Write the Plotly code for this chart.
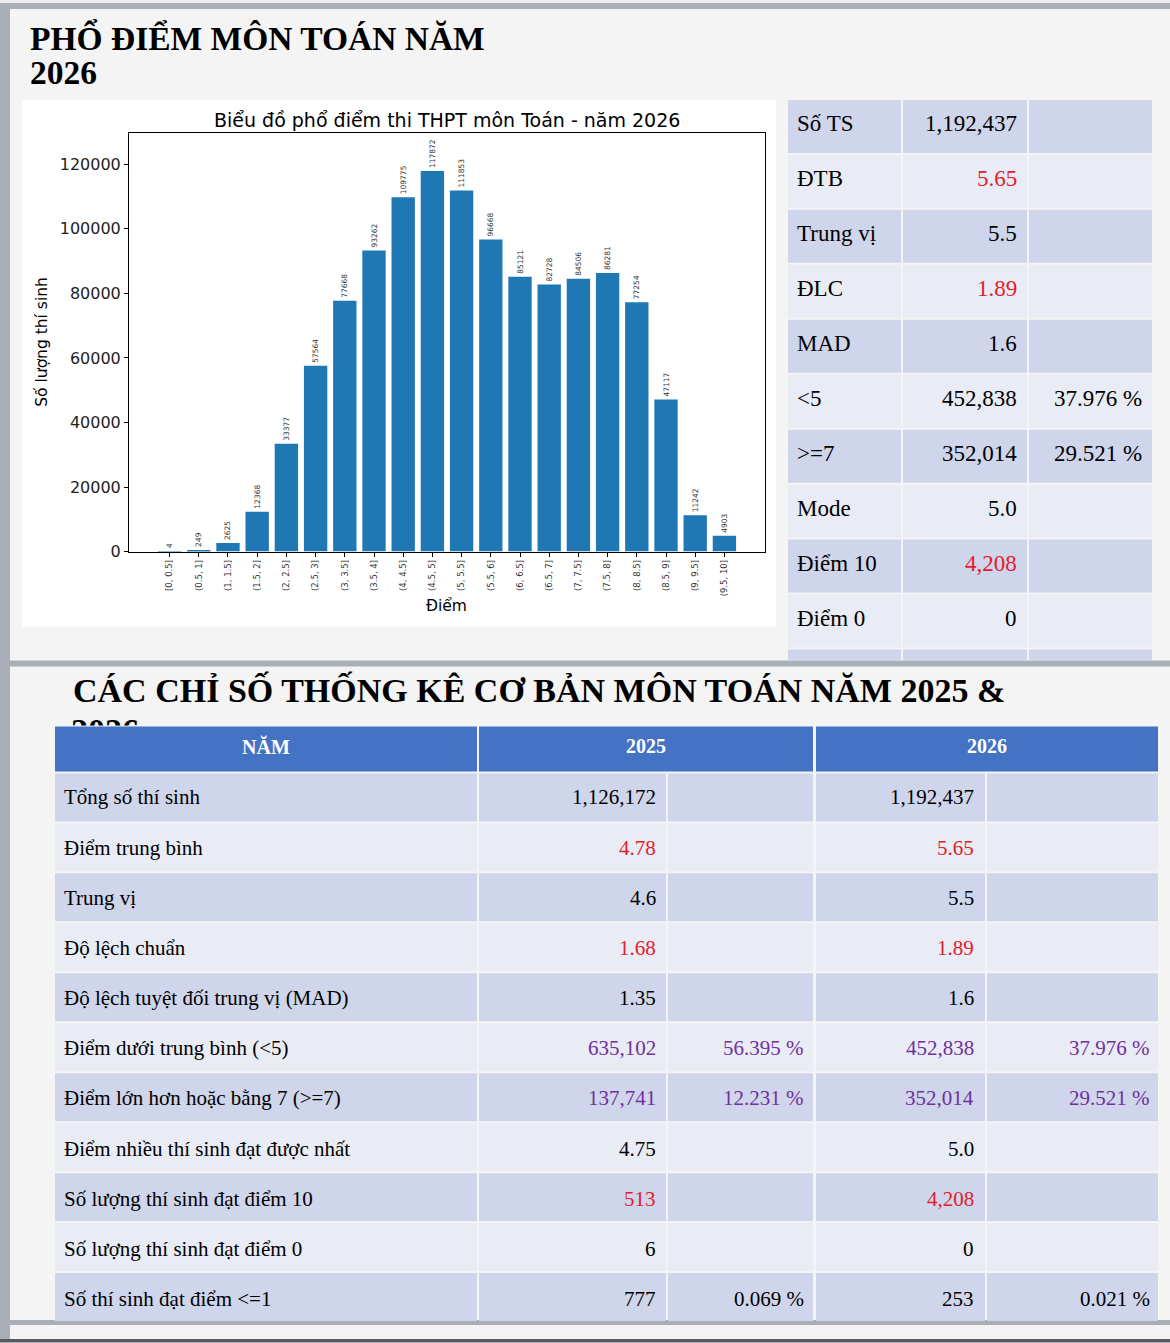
import plotly.graph_objects as go

W, H = 1170, 1343
FIG_H = 1352

# ---------------- data ----------------
bins = ["[0, 0.5]", "(0.5, 1]", "(1, 1.5]", "(1.5, 2]", "(2, 2.5]", "(2.5, 3]", "(3, 3.5]",
        "(3.5, 4]", "(4, 4.5]", "(4.5, 5]", "(5, 5.5]", "(5.5, 6]", "(6, 6.5]", "(6.5, 7]",
        "(7, 7.5]", "(7.5, 8]", "(8, 8.5]", "(8.5, 9]", "(9, 9.5]", "(9.5, 10]"]
counts = [4, 249, 2625, 12368, 33377, 57564, 77668, 93262, 109775, 117872, 111853, 96668,
          85121, 82728, 84506, 86281, 77254, 47117, 11242, 4903]
y_ticks = [0, 20000, 40000, 60000, 80000, 100000, 120000]

t1_labels = ["Số TS", "ĐTB", "Trung vị", "ĐLC", "MAD", "&lt;5", "&gt;=7", "Mode", "Điểm 10", "Điểm 0"]
t1_values = ["1,192,437", "5.65", "5.5", "1.89", "1.6", "452,838", "352,014", "5.0", "4,208", "0"]
t1_pct = ["", "", "", "", "", "37.976 %", "29.521 %", "", "", ""]
t1_red = [1, 3, 8]

t2_header = ["NĂM", "2025", "2026"]
t2_labels = ["Tổng số thí sinh", "Điểm trung bình", "Trung vị", "Độ lệch chuẩn",
             "Độ lệch tuyệt đối trung vị (MAD)", "Điểm dưới trung bình (&lt;5)",
             "Điểm lớn hơn hoặc bằng 7 (&gt;=7)", "Điểm nhiều thí sinh đạt được nhất",
             "Số lượng thí sinh đạt điểm 10", "Số lượng thí sinh đạt điểm 0", "Số thí sinh đạt điểm &lt;=1"]
v2025 = ["1,126,172", "4.78", "4.6", "1.68", "1.35", "635,102", "137,741", "4.75", "513", "6", "777"]
p2025 = ["", "", "", "", "", "56.395 %", "12.231 %", "", "", "", "0.069 %"]
v2026 = ["1,192,437", "5.65", "5.5", "1.89", "1.6", "452,838", "352,014", "5.0", "4,208", "0", "253"]
p2026 = ["", "", "", "", "", "37.976 %", "29.521 %", "", "", "", "0.021 %"]
t2_red = [1, 3, 8]
t2_purple = [5, 6]

# ---------------- styles ----------------
GREY = "#a9aeb9"
SLIDE = "#f4f4f4"
DARK = "#cfd5ea"
LIGHT = "#e9ebf5"
BLUE = "#4472c4"
RED = "#e3202b"
PURPLE = "#7030a0"
SERIF = "Liberation Serif"
SANS = "DejaVu Sans"


def px(x):
    return x / W


def py(y):
    return 1 - y / H


shapes = []
annos = []


def rect(x0, y0, x1, y1, color, line=None, lw=0):
    shapes.append(dict(type="rect", xref="paper", yref="paper", x0=px(x0), x1=px(x1),
                       y0=py(y1), y1=py(y0), fillcolor=color, layer="below",
                       line=dict(color=line or color, width=lw)))


def text(x, y, s, size, color="black", anchor="left", bold=False, family=SERIF):
    if bold:
        s = "<b>" + s + "</b>"
    annos.append(dict(x=px(x), y=py(y), xref="paper", yref="paper", text=s, showarrow=False,
                      xanchor=anchor, yanchor="middle",
                      font=dict(family=family, size=size, color=color)))


# page background pieces
rect(0, 0, W, 3, "#eeeeee")
rect(10, 9, W, 661, SLIDE)
rect(10, 667, W, 1321, SLIDE)
rect(10, 1326, W, 1340, SLIDE)
rect(0, 1340, W, H, "#5a5a5a")

# slide 1 title
text(28, 38, "PHỔ ĐIỂM MÔN TOÁN NĂM", 33.5, bold=True)
text(28, 73, "2026", 33.5, bold=True)

# chart white box
rect(22, 100, 776, 627, "white")
text(447, 120, "Biểu đồ phổ điểm thi THPT môn Toán - năm 2026", 19, anchor="center", family=SANS)
text(447, 606, "Điểm", 15.5, anchor="center", family=SANS)
annos.append(dict(x=px(42), y=py(342), xref="paper", yref="paper", text="Số lượng thí sinh",
                  showarrow=False, textangle=-90, xanchor="center", yanchor="middle",
                  font=dict(family=SANS, size=15.5, color="black")))

# table 1 (right of chart)
c1 = [(788, 901), (903, 1027), (1029, 1152)]
for i in range(11):
    y0 = 100 + i * 55
    y1 = min(y0 + 53, 661)
    col = DARK if i % 2 == 0 else LIGHT
    for (a, b) in c1:
        rect(a, y0, b, y1, col)
for i, lab in enumerate(t1_labels):
    yc = 124 + i * 55
    text(795, yc, lab, 23)
    text(1019, yc, t1_values[i], 23, color=RED if i in t1_red else "black", anchor="right")
    if t1_pct[i]:
        text(1144, yc, t1_pct[i], 23, anchor="right")

# slide 2 title
text(71, 691, "CÁC CHỈ SỐ THỐNG KÊ CƠ BẢN MÔN TOÁN NĂM 2025 &amp;", 34, bold=True)

# table 2
hdr = [(55, 477), (479, 813), (816, 1158)]
for (a, b), lab in zip(hdr, t2_header):
    rect(a, 727, b, 772, BLUE)
    text((a + b) / 2, 747, lab, 20, color="white", anchor="center", bold=True)
c2 = [(55, 477), (479, 666), (668, 813), (816, 985), (987, 1158)]
for i in range(11):
    y0 = 774 + i * 50
    y1 = y0 + 48
    col = DARK if i % 2 == 0 else LIGHT
    for (a, b) in c2:
        rect(a, y0, b, y1, col)
for i, lab in enumerate(t2_labels):
    yc = 798 + i * 50.2
    c = RED if i in t2_red else (PURPLE if i in t2_purple else "black")
    text(62, yc, lab, 21)
    text(658, yc, v2025[i], 21, color=c, anchor="right")
    text(976, yc, v2026[i], 21, color=c, anchor="right")
    if p2025[i]:
        text(806, yc, p2025[i], 21, color=c, anchor="right")
    if p2026[i]:
        text(1152, yc, p2026[i], 21, color=c, anchor="right")

# ---------------- figure ----------------
fig = go.Figure()
fig.add_trace(go.Bar(
    x=bins, y=counts, width=0.8, marker=dict(color="#1f77b4", line=dict(width=0)),
    text=[str(v) for v in counts], textposition="outside", textangle=-90,
    textfont=dict(family=SANS, size=7.5, color="#333333"), cliponaxis=False,
    constraintext="none", showlegend=False, hoverinfo="x+y"))

# clipped second line of slide-2 title (hidden behind the table header)
fig.add_trace(go.Scatter(
    x=[71], y=[734], mode="text", text=["<b>2026</b>"], textposition="middle right",
    textfont=dict(family=SERIF, size=34, color="black"), cliponaxis=True,
    xaxis="x2", yaxis="y2", showlegend=False, hoverinfo="skip"))

fig.update_layout(
    width=W, height=FIG_H, margin=dict(l=0, r=0, t=0, b=0),
    paper_bgcolor=GREY, plot_bgcolor="rgba(0,0,0,0)",
    shapes=shapes, annotations=annos, showlegend=False,
    xaxis=dict(domain=[px(129), px(765)], type="category", range=[-1.39, 20.39],
               showline=True, mirror=True, linecolor="black", linewidth=1,
               ticks="outside", ticklen=4, tickcolor="black", tickangle=-90,
               tickfont=dict(family=SANS, size=8.5, color="#333333"), showgrid=False,
               zeroline=False, anchor="y"),
    yaxis=dict(domain=[py(552), py(133)], range=[0, 129700], tickvals=y_ticks,
               tickformat="d", showline=True, mirror=True, linecolor="black", linewidth=1,
               ticks="outside", ticklen=4, tickcolor="black",
               tickfont=dict(family=SANS, size=16, color="#222222"), showgrid=False,
               zeroline=False, anchor="x"),
    xaxis2=dict(domain=[0, 1], range=[0, W], visible=False, fixedrange=True, anchor="y2"),
    yaxis2=dict(domain=[py(726), py(667)], range=[726, 667], visible=False,
                fixedrange=True, anchor="x2"),
)

fig.write_html("out.html")
